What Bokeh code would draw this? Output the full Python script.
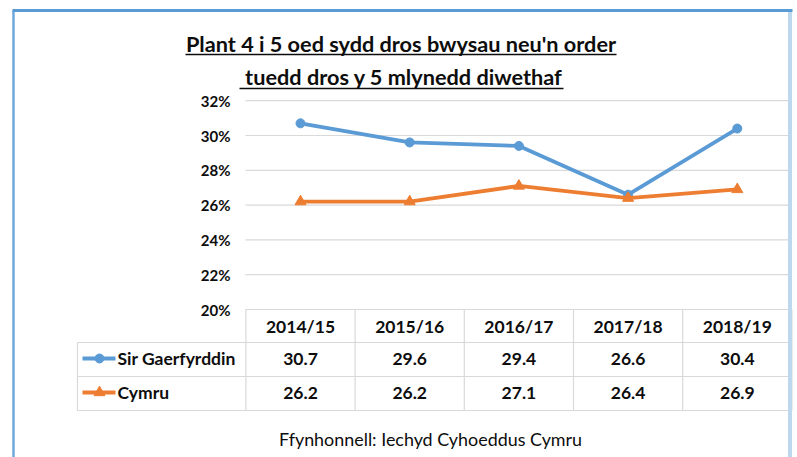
from bokeh.plotting import figure
from bokeh.models import Range1d
from bokeh.embed import file_html
from bokeh.resources import INLINE
from bokeh.core.properties import value

# ---------------- data ----------------
categories = ["2014/15", "2015/16", "2016/17", "2017/18", "2018/19"]
sir_gaerfyrddin = [30.7, 29.6, 29.4, 26.6, 30.4]
cymru = [26.2, 26.2, 27.1, 26.4, 26.9]
series_names = ["Sir Gaerfyrddin", "Cymru"]
yticks = [20, 22, 24, 26, 28, 30, 32]
ytick_labels = ["20%", "22%", "24%", "26%", "28%", "30%", "32%"]
title_lines = ["Plant 4 i 5 oed sydd dros bwysau neu'n order",
               "tuedd dros y 5 mlynedd diwethaf"]
source_text = "Ffynhonnell: Iechyd Cyhoeddus Cymru"

# ---------------- styles / layout ----------------
FONT = value("Lato")
BLUE = "#5B9BD5"
ORANGE = "#ED7D31"
GRID = "#D9D9D9"
TXT = "#0D0D0D"

W, H = 797, 457
COL_W = 109.2          # px per category column
X0 = 300.0             # x of first category centre
Y20 = 309.0            # y of the 20% line
PX_PER_PCT = 17.4      # px per percentage point

p = figure(width=W, height=H, output_backend="svg", toolbar_location=None,
           x_range=Range1d(0, W), y_range=Range1d(H, 0),
           x_axis_location=None, y_axis_location=None, min_border=0)
p.outline_line_color = None
p.background_fill_color = "white"
p.border_fill_color = "white"
p.grid.grid_line_color = None

p.extra_x_ranges = {"idx": Range1d(-X0 / COL_W, (W - X0) / COL_W)}
p.extra_y_ranges = {"pct": Range1d(20 - (H - Y20) / PX_PER_PCT, 20 + Y20 / PX_PER_PCT)}

n = len(categories)
idx = list(range(n))

# ---- gridlines (y ticks above baseline) ----
grid_y = yticks[1:]
p.segment(x0=[245] * len(grid_y), x1=[788] * len(grid_y), y0=grid_y, y1=grid_y,
          y_range_name="pct", line_color=GRID, line_width=1.2)

# ---- y tick labels ----
p.text(x=[230] * len(yticks), y=yticks, text=ytick_labels, y_range_name="pct",
       text_align="right", text_baseline="middle", text_font=FONT,
       text_font_style="bold", text_font_size="15px", text_color=TXT)

# ---- data table lines ----
row_y = [342, 376, 410]
p.segment(x0=[245], x1=[788], y0=[Y20], y1=[Y20], line_color=GRID, line_width=1.2)
p.segment(x0=[77] * 3, x1=[788] * 3, y0=row_y, y1=row_y, line_color=GRID, line_width=1.2)
p.segment(x0=[77], x1=[77], y0=[342], y1=[410], line_color=GRID, line_width=1.2)
bounds = [i - 0.5 for i in range(n + 1)]
p.segment(x0=bounds, x1=bounds, y0=[Y20] * len(bounds), y1=[410] * len(bounds),
          x_range_name="idx", line_color=GRID, line_width=1.2)

# ---- series ----
p.line(x=idx, y=sir_gaerfyrddin, x_range_name="idx", y_range_name="pct",
       line_color=BLUE, line_width=3.8)
p.scatter(x=idx, y=sir_gaerfyrddin, x_range_name="idx", y_range_name="pct",
          marker="circle", size=9, fill_color=BLUE, line_color=BLUE)
p.line(x=idx, y=cymru, x_range_name="idx", y_range_name="pct",
       line_color=ORANGE, line_width=3.8)
p.scatter(x=idx, y=cymru, x_range_name="idx", y_range_name="pct",
          marker="triangle", size=11, fill_color=ORANGE, line_color=ORANGE)

# ---- table text ----
tbl_font = "17.5px"
p.text(x=idx, y=[326] * n, text=categories, x_range_name="idx",
       text_align="center", text_baseline="middle", text_font=FONT,
       text_font_style="bold", text_font_size=tbl_font, text_color=TXT)
p.text(x=idx, y=[358] * n, text=[f"{v:.1f}" for v in sir_gaerfyrddin], x_range_name="idx",
       text_align="center", text_baseline="middle", text_font=FONT,
       text_font_style="bold", text_font_size=tbl_font, text_color=TXT)
p.text(x=idx, y=[392] * n, text=[f"{v:.1f}" for v in cymru], x_range_name="idx",
       text_align="center", text_baseline="middle", text_font=FONT,
       text_font_style="bold", text_font_size=tbl_font, text_color=TXT)

# ---- legend keys in table ----
p.segment(x0=[82], x1=[115], y0=[358], y1=[358], line_color=BLUE, line_width=3.8)
p.scatter(x=[99], y=[358], marker="circle", size=9, fill_color=BLUE, line_color=BLUE)
p.segment(x0=[82], x1=[115], y0=[392], y1=[392], line_color=ORANGE, line_width=3.8)
p.scatter(x=[99], y=[392], marker="triangle", size=11, fill_color=ORANGE, line_color=ORANGE)
p.text(x=[117, 117], y=[358, 392], text=series_names, text_align="left",
       text_baseline="middle", text_font=FONT, text_font_style="bold",
       text_font_size=tbl_font, text_color=TXT)

# ---- title (underlined) ----
p.text(x=[400.5, 403.5], y=[43.5, 76], text=title_lines, text_align="center",
       text_baseline="middle", text_font=FONT, text_font_style="bold",
       text_font_size="21.7px", text_color=TXT)
p.segment(x0=[185, 239], x1=[616, 563], y0=[54, 88], y1=[54, 88],
          line_color=TXT, line_width=1.6)

# ---- source ----
p.text(x=[430], y=[438], text=[source_text], text_align="center",
       text_baseline="middle", text_font=FONT, text_font_size="17.9px", text_color=TXT)

# ---- chart border ----
p.segment(x0=[13], x1=[13], y0=[10], y1=[H], line_color="#6FA8DC", line_width=2.5)
p.segment(x0=[789.5], x1=[789.5], y0=[10], y1=[H], line_color="#BDD7EE", line_width=4)
p.segment(x0=[12], x1=[792], y0=[10], y1=[10], line_color=BLUE, line_width=3)

open("out.html", "w").write(file_html(p, INLINE))
